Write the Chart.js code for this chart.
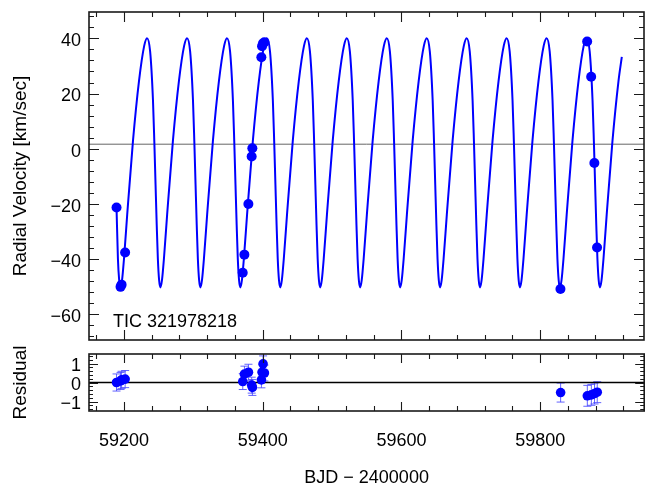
<!DOCTYPE html>
<html>
<head>
<meta charset="utf-8">
<script src="https://cdn.jsdelivr.net/npm/chart.js@4"></script>
<style>
  html, body { margin: 0; padding: 0; background: #fff; }
  #wrap { position: relative; width: 649px; height: 486px; }
  canvas { position: absolute; left: 0; }
  #c1 { top: 0; }
  #c2 { top: 345px; }
</style>
</head>
<body>
<div id="wrap">
  <canvas id="c1" width="649" height="345"></canvas>
  <canvas id="c2" width="649" height="141"></canvas>
</div>
<script>
// ---------------- data ----------------
const targetName = "TIC 321978218";
const xTitle = "BJD \u2212 2400000";
const rvTitle = "Radial Velocity [km/sec]";
const residTitle = "Residual";

const xRange = [59149.5, 59950];
const rvRange = [-69.5, 49.6];
const residRange = [-1.5, 1.5];

const xTicks = [59200, 59400, 59600, 59800];
const rvTicks = [-60, -40, -20, 0, 20, 40];
const residTicks = [-1, 0, 1];

const gammaRV = 1.6;   // horizontal reference line in the RV panel

// observed radial velocities
const obsTime = [59189.2, 59195.0, 59196.5, 59201.6,
                 59371.2, 59373.6, 59379.4, 59384.1, 59385.1, 59398.1, 59399.1, 59400.5, 59402.4,
                 59829.5, 59868.0, 59873.8, 59878.4, 59882.3];
const obsRV   = [-21.4, -50.2, -49.4, -37.7,
                 -45.1, -38.5, -20.1, -2.9, 0.1, 33.2, 37.2, 38.2, 38.6,
                 -51.0, 38.9, 26.1, -5.2, -35.9];
// residuals (O - C) and their error bars
const resid    = [0.00, 0.08, 0.14, 0.18,
                  0.05, 0.44, 0.54, -0.14, -0.26, 0.14, 0.54, 0.98, 0.50,
                  -0.53, -0.70, -0.65, -0.58, -0.51];
const residErr = [0.45, 0.45, 0.45, 0.45,
                  0.42, 0.42, 0.42, 0.42, 0.42, 0.42, 0.42, 0.42, 0.42,
                  0.50, 0.55, 0.55, 0.55, 0.55];

// orbit-fit curve, points
const modelTime = [
  59189.2, 59191.2, 59193.0, 59194.9, 59197.2, 59200.0, 59204.6, 59212.9, 59221.6, 59229.1,
  59233.2, 59237.7, 59241.8, 59243.7, 59245.5, 59247.2, 59248.8, 59250.6, 59252.5, 59254.8, 59257.6, 59262.2, 59270.5, 59279.2, 59286.7,
  59290.9, 59295.4, 59299.5, 59301.4, 59303.2, 59304.9, 59306.5, 59308.3, 59310.2, 59312.5, 59315.3, 59319.9, 59328.2, 59336.9, 59344.4,
  59348.5, 59353.0, 59357.1, 59359.0, 59360.8, 59362.5, 59364.1, 59365.9, 59367.8, 59370.1, 59372.9, 59377.5, 59385.8, 59394.5, 59402.0,
  59406.1, 59410.6, 59414.7, 59416.6, 59418.4, 59420.1, 59421.7, 59423.5, 59425.4, 59427.7, 59430.5, 59435.1, 59443.4, 59452.1, 59459.6,
  59463.7, 59468.2, 59472.3, 59474.2, 59476.0, 59477.7, 59479.3, 59481.1, 59483.0, 59485.3, 59488.1, 59492.7, 59501.0, 59509.7, 59517.2,
  59521.3, 59525.8, 59529.9, 59531.8, 59533.6, 59535.3, 59536.9, 59538.7, 59540.6, 59542.9, 59545.7, 59550.3, 59558.6, 59567.3, 59574.8,
  59579.0, 59583.5, 59587.6, 59589.5, 59591.3, 59593.0, 59594.6, 59596.4, 59598.3, 59600.6, 59603.4, 59608.0, 59616.3, 59625.0, 59632.5,
  59636.6, 59641.1, 59645.2, 59647.1, 59648.9, 59650.6, 59652.2, 59654.0, 59655.9, 59658.2, 59661.0, 59665.6, 59673.9, 59682.6, 59690.1,
  59694.2, 59698.7, 59702.8, 59704.7, 59706.5, 59708.2, 59709.8, 59711.6, 59713.5, 59715.8, 59718.6, 59723.2, 59731.5, 59740.2, 59747.7,
  59751.8, 59756.3, 59760.4, 59762.3, 59764.1, 59765.8, 59767.4, 59769.2, 59771.1, 59773.4, 59776.2, 59780.8, 59789.1, 59797.8, 59805.3,
  59809.5, 59814.0, 59818.1, 59820.0, 59821.8, 59823.5, 59825.1, 59826.9, 59828.8, 59831.1, 59833.9, 59838.5, 59846.8, 59855.5, 59863.0,
  59867.2, 59871.7, 59875.8, 59877.7, 59879.5, 59881.2, 59882.8, 59884.6, 59886.5, 59888.8, 59891.6, 59896.2, 59904.5, 59913.2, 59918.0
];
const modelRV = [
  -21.4, -39.9, -47.7, -50.4, -47.7, -39.9, -24.0, 2.7, 24.5, 37.3,
  40.1, 35.2, 17.4, 2.7, -13.1, -27.8, -39.9, -47.7, -50.4, -47.7, -39.9, -24.0, 2.7, 24.5, 37.3,
  40.1, 35.2, 17.4, 2.7, -13.1, -27.8, -39.9, -47.7, -50.4, -47.7, -39.9, -24.0, 2.7, 24.5, 37.3,
  40.1, 35.2, 17.4, 2.7, -13.1, -27.8, -39.9, -47.7, -50.4, -47.7, -39.9, -24.0, 2.7, 24.5, 37.3,
  40.1, 35.2, 17.4, 2.7, -13.1, -27.8, -39.9, -47.7, -50.4, -47.7, -39.9, -24.0, 2.7, 24.5, 37.3,
  40.1, 35.2, 17.4, 2.7, -13.1, -27.8, -39.9, -47.7, -50.4, -47.7, -39.9, -24.0, 2.7, 24.5, 37.3,
  40.1, 35.2, 17.4, 2.7, -13.1, -27.8, -39.9, -47.7, -50.4, -47.7, -39.9, -24.0, 2.7, 24.5, 37.3,
  40.1, 35.2, 17.4, 2.7, -13.1, -27.8, -39.9, -47.7, -50.4, -47.7, -39.9, -24.0, 2.7, 24.5, 37.3,
  40.1, 35.2, 17.4, 2.7, -13.1, -27.8, -39.9, -47.7, -50.4, -47.7, -39.9, -24.0, 2.7, 24.5, 37.3,
  40.1, 35.2, 17.4, 2.7, -13.1, -27.8, -39.9, -47.7, -50.4, -47.7, -39.9, -24.0, 2.7, 24.5, 37.3,
  40.1, 35.2, 17.4, 2.7, -13.1, -27.8, -39.9, -47.7, -50.4, -47.7, -39.9, -24.0, 2.7, 24.5, 37.3,
  40.1, 35.2, 17.4, 2.7, -13.1, -27.8, -39.9, -47.7, -50.4, -47.7, -39.9, -24.0, 2.7, 24.5, 37.3,
  40.1, 35.2, 17.4, 2.7, -13.1, -27.8, -39.9, -47.7, -50.4, -47.7, -39.9, -24.0, 2.7, 24.5, 33.3
];

// ---------------- styling ----------------
const FONT = "'Liberation Sans', Arial, Helvetica, sans-serif";
const BLUE = "#0000ff";
const INK = "#1a1a1a";

const pts = (xs, ys) => xs.map((x, i) => ({ x: x, y: ys[i] }));
const minusify = v => String(v).replace('-', '\u2212');
const noPad = s => { s.paddingTop = 0; s.paddingBottom = 0; s.paddingLeft = 0; s.paddingRight = 0; };

// frame + inward ticks on all four sides
const framePlugin = {
  id: 'frame',
  afterDatasetsDraw(chart, args, o) {
    const { ctx, chartArea: a, scales: { x, y } } = chart;
    const list = (step, lo, hi) => {
      const out = [];
      for (let k = Math.ceil(lo / step - 1e-9); k * step <= hi + 1e-9; k++) out.push(k * step);
      return out;
    };
    const isMajor = (v, m) => Math.abs(v / m - Math.round(v / m)) < 1e-6;
    ctx.save();
    ctx.strokeStyle = INK;
    ctx.lineWidth = 1.1;
    ctx.beginPath();
    list(o.xMinor, x.min, x.max).forEach(v => {
      const p = Math.round(x.getPixelForValue(v)) + 0.5;
      const L = isMajor(v, o.xMajor) ? o.xMajorLen : o.xMinorLen;
      ctx.moveTo(p, a.bottom); ctx.lineTo(p, a.bottom - L);
      ctx.moveTo(p, a.top); ctx.lineTo(p, a.top + L);
    });
    list(o.yMinor, y.min, y.max).forEach(v => {
      const p = Math.round(y.getPixelForValue(v)) + 0.5;
      const L = isMajor(v, o.yMajor) ? o.yMajorLen : o.yMinorLen;
      ctx.moveTo(a.left, p); ctx.lineTo(a.left + L, p);
      ctx.moveTo(a.right, p); ctx.lineTo(a.right - L, p);
    });
    ctx.stroke();
    ctx.lineWidth = 1.6;
    ctx.strokeRect(a.left, a.top, a.right - a.left, a.bottom - a.top);
    if (o.label) {
      ctx.fillStyle = '#000';
      ctx.font = '18px ' + FONT;
      ctx.textBaseline = 'alphabetic';
      ctx.textAlign = 'left';
      ctx.fillText(o.label, a.left + 24, a.bottom - 13);
    }
    ctx.restore();
  }
};

// error bars for the residual panel
const errPlugin = {
  id: 'errbars',
  beforeDatasetsDraw(chart) {
    const { ctx, scales: { x, y } } = chart;
    ctx.save();
    ctx.strokeStyle = 'rgba(70,70,255,0.85)';
    ctx.lineWidth = 1;
    ctx.beginPath();
    obsTime.forEach((t, i) => {
      const px = x.getPixelForValue(t);
      const y1 = y.getPixelForValue(resid[i] - residErr[i]);
      const y2 = y.getPixelForValue(resid[i] + residErr[i]);
      ctx.moveTo(px, y1); ctx.lineTo(px, y2);
      ctx.moveTo(px - 4, y1); ctx.lineTo(px + 4, y1);
      ctx.moveTo(px - 4, y2); ctx.lineTo(px + 4, y2);
    });
    ctx.stroke();
    ctx.restore();
  }
};

Chart.defaults.font.family = FONT;
Chart.defaults.color = '#000';

// ---------------- RV panel ----------------
new Chart(document.getElementById('c1'), {
  type: 'scatter',
  data: {
    datasets: [
      { data: pts(obsTime, obsRV), pointRadius: 5, pointBackgroundColor: BLUE, pointBorderColor: BLUE, borderWidth: 0, order: 0 },
      { data: pts(modelTime, modelRV), showLine: true, borderColor: BLUE, borderWidth: 2, pointRadius: 0, cubicInterpolationMode: 'monotone', order: 1 },
      { data: pts(xRange, [gammaRV, gammaRV]), showLine: true, borderColor: '#666', borderWidth: 1, pointRadius: 0, order: 2 }
    ]
  },
  options: {
    responsive: false, animation: false, events: [],
    layout: { padding: { top: 12, right: 3, bottom: 3, left: 0 } },
    plugins: { legend: { display: false }, tooltip: { enabled: false },
      frame: { xMinor: 40, xMajor: 200, xMajorLen: 10, xMinorLen: 5,
               yMinor: 4, yMajor: 20, yMajorLen: 10, yMinorLen: 5, label: targetName } },
    scales: {
      x: { type: 'linear', display: false, min: xRange[0], max: xRange[1] },
      y: {
        type: 'linear', min: rvRange[0], max: rvRange[1],
        grid: { display: false, drawTicks: false }, border: { display: false },
        afterBuildTicks: s => { s.ticks = rvTicks.map(v => ({ value: v })); },
        afterFit: s => { s.width = 89; noPad(s); },
        ticks: { font: { size: 18 }, padding: 8, labelOffset: 3, autoSkip: false, callback: v => minusify(v) },
        title: { display: true, text: rvTitle, font: { size: 19 }, padding: { top: 9, bottom: 0 } }
      }
    }
  },
  plugins: [framePlugin]
});

// ---------------- residual panel ----------------
new Chart(document.getElementById('c2'), {
  type: 'scatter',
  data: {
    datasets: [
      { data: pts(obsTime, resid), pointRadius: 4.8, pointBackgroundColor: BLUE, pointBorderColor: BLUE, borderWidth: 0, order: 0 },
      { data: pts(xRange, [0, 0]), showLine: true, borderColor: '#000', borderWidth: 1.6, pointRadius: 0, order: 2 }
    ]
  },
  options: {
    responsive: false, animation: false, events: [],
    layout: { padding: { top: 9, right: 3, bottom: 0, left: 0 } },
    plugins: { legend: { display: false }, tooltip: { enabled: false },
      frame: { xMinor: 40, xMajor: 200, xMajorLen: 9, xMinorLen: 5,
               yMinor: 0.2, yMajor: 1, yMajorLen: 9, yMinorLen: 4 } },
    scales: {
      x: {
        type: 'linear', min: xRange[0], max: xRange[1],
        grid: { display: false, drawTicks: false }, border: { display: false },
        afterBuildTicks: s => { s.ticks = xTicks.map(v => ({ value: v })); },
        afterFit: s => { s.height = 75; noPad(s); },
        ticks: { font: { size: 18 }, padding: 19, maxRotation: 0, autoSkip: false, callback: v => String(v) },
        title: { display: true, text: xTitle, font: { size: 18, lineHeight: 0.85 }, padding: { top: 0, bottom: 0 } }
      },
      y: {
        type: 'linear', min: residRange[0], max: residRange[1],
        grid: { display: false, drawTicks: false }, border: { display: false },
        afterBuildTicks: s => { s.ticks = residTicks.map(v => ({ value: v })); },
        afterFit: s => { s.width = 89; noPad(s); },
        ticks: { font: { size: 18 }, padding: 8, labelOffset: 3, autoSkip: false, callback: v => minusify(v) },
        title: { display: true, text: residTitle, font: { size: 19 }, padding: { top: 9, bottom: 0 } }
      }
    }
  },
  plugins: [framePlugin, errPlugin]
});
</script>
</body>
</html>
